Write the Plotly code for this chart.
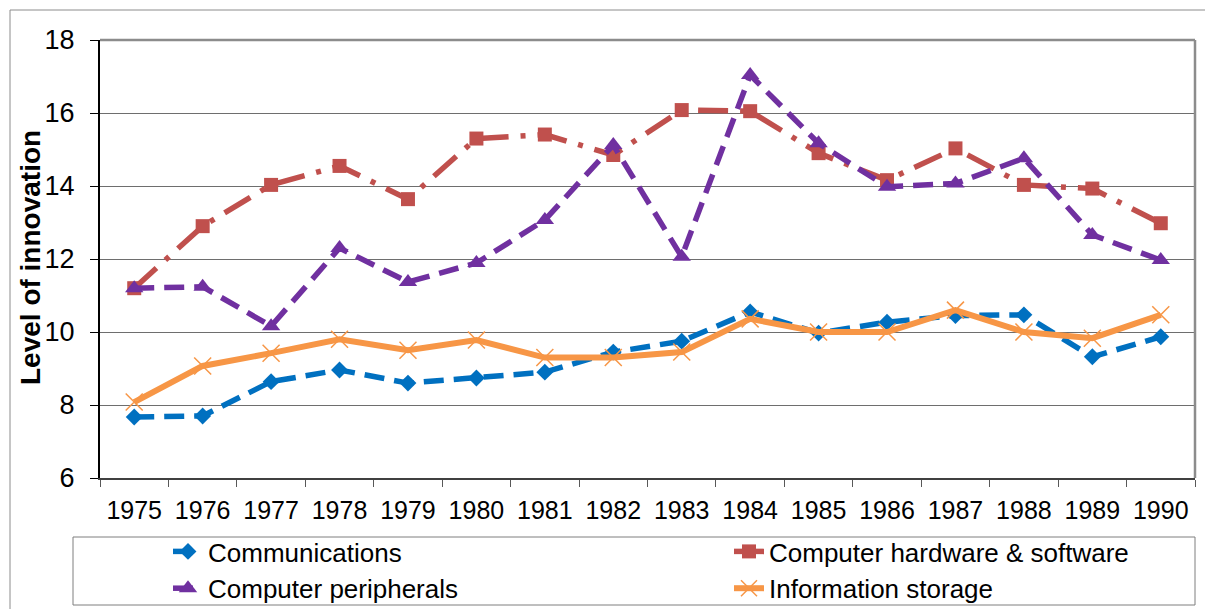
import plotly.graph_objects as go

years = ["1975", "1976", "1977", "1978", "1979", "1980", "1981", "1982",
         "1983", "1984", "1985", "1986", "1987", "1988", "1989", "1990"]

communications = [7.67, 7.70, 8.64, 8.96, 8.60, 8.74, 8.90, 9.45,
                  9.75, 10.55, 9.97, 10.27, 10.45, 10.47, 9.32, 9.87]
hardware_software = [11.20, 12.90, 14.03, 14.55, 13.64, 15.30, 15.41, 14.85,
                     16.08, 16.05, 14.90, 14.16, 15.03, 14.03, 13.93, 12.98]
peripherals = [11.20, 11.24, 10.16, 12.30, 11.37, 11.89, 13.07, 15.12,
               12.06, 17.04, 15.17, 13.98, 14.07, 14.76, 12.66, 11.97]
storage = [8.08, 9.07, 9.42, 9.80, 9.50, 9.78, 9.30, 9.30,
           9.45, 10.36, 10.00, 10.00, 10.60, 10.00, 9.83, 10.47]

y_ticks = [6, 8, 10, 12, 14, 16, 18]

FONT = "Liberation Sans, Arial, sans-serif"
OFF = 8  # page body margin
W, H = 1213 - OFF, 609 - OFF
L, T = 100 - OFF, 40 - OFF
R = W - (1195 - OFF)
B = H - (478 - OFF)
PW, PH = W - L - R, H - T - B


def px_x(x):
    """page x pixel -> paper coordinate"""
    return (x - OFF - L) / PW


def px_y(y):
    """page y pixel -> paper coordinate"""
    return (H - B - (y - OFF)) / PH


fig = go.Figure()

fig.add_trace(go.Scatter(
    x=years, y=communications, name="Communications", mode="lines+markers",
    line=dict(color="#0070C0", width=5.5, dash="20px,10px"),
    marker=dict(symbol="diamond", size=13, color="#0070C0"),
    legend="legend"))
fig.add_trace(go.Scatter(
    x=years, y=hardware_software, name="Computer hardware & software", mode="lines+markers",
    line=dict(color="#C0504D", width=5.5, dash="30px,12px,5px,12px"),
    marker=dict(symbol="square", size=14, color="#C0504D"),
    legend="legend2"))
fig.add_trace(go.Scatter(
    x=years, y=peripherals, name="Computer peripherals", mode="lines+markers",
    line=dict(color="#7030A0", width=5.5, dash="20px,10px"),
    marker=dict(symbol="triangle-up", size=16, color="#7030A0"),
    legend="legend"))
fig.add_trace(go.Scatter(
    x=years, y=storage, name="Information storage", mode="lines+markers",
    line=dict(color="#F79646", width=6),
    marker=dict(symbol="x-thin-open", size=17, color="#F79646",
                line=dict(color="#F79646", width=1.5)),
    legend="legend2"))

shapes = [
    # plot area border (top/right)
    dict(type="line", xref="paper", yref="paper", x0=0, x1=1, y0=1, y1=1,
         line=dict(color="#8c8c8c", width=2.5)),
    dict(type="line", xref="paper", yref="paper", x0=1, x1=1, y0=0, y1=1,
         line=dict(color="#8c8c8c", width=2.5)),
    # outer chart border
    dict(type="line", xref="paper", yref="paper", x0=px_x(10), x1=px_x(1220),
         y0=px_y(10), y1=px_y(10), line=dict(color="#8c8c8c", width=1)),
    dict(type="line", xref="paper", yref="paper", x0=px_x(10), x1=px_x(10),
         y0=px_y(10), y1=px_y(615), line=dict(color="#8c8c8c", width=1)),
    # legend box
    dict(type="rect", xref="paper", yref="paper", x0=px_x(73), x1=px_x(1195),
         y0=px_y(605), y1=px_y(537), line=dict(color="#7f7f7f", width=1)),
]

legend_common = dict(font=dict(family=FONT, size=26, color="black"),
                     bgcolor="rgba(0,0,0,0)", borderwidth=0, orientation="v",
                     yanchor="top", xanchor="left", traceorder="normal",
                     itemclick=False, itemdoubleclick=False)

fig.update_layout(
    width=W, height=H,
    margin=dict(l=L, r=R, t=T, b=B, pad=0, autoexpand=False),
    paper_bgcolor="white", plot_bgcolor="white",
    font=dict(family=FONT, color="black"),
    showlegend=True,
    legend=dict(x=px_x(168), y=px_y(528), **legend_common),
    legend2=dict(x=px_x(729), y=px_y(528), **legend_common),
    shapes=shapes,
    annotations=[dict(text="<b>Level of innovation</b>", textangle=-90,
                      xref="paper", yref="paper", x=px_x(30), y=px_y(258),
                      xanchor="center", yanchor="middle", showarrow=False,
                      font=dict(family=FONT, size=28, color="black"))],
    xaxis=dict(type="category", categoryorder="array", categoryarray=years,
               range=[-0.5, 15.5], tickson="boundaries", ticks="outside",
               ticklen=7, tickcolor="#595959", tickwidth=1,
               showline=True, linecolor="#404040", linewidth=1.5,
               showgrid=False, zeroline=False, ticklabelstandoff=9,
               tickfont=dict(family=FONT, size=25, color="black")),
    yaxis=dict(range=[6, 18], tickvals=y_ticks, ticks="outside", ticklen=8,
               tickcolor="black", tickwidth=1, showline=True, linecolor="black",
               linewidth=2, showgrid=True, gridcolor="#6e6e6e", gridwidth=1,
               zeroline=False, ticklabelstandoff=10,
               tickfont=dict(family=FONT, size=27, color="black")),
)

fig.write_html("out.html")
